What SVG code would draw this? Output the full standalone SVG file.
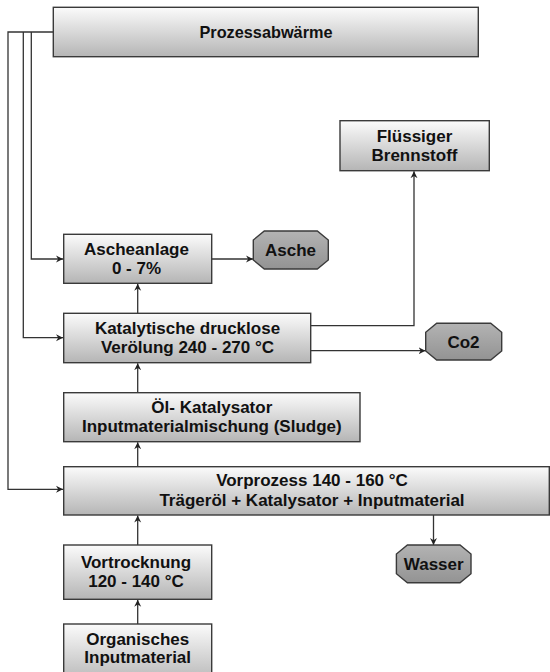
<svg xmlns="http://www.w3.org/2000/svg" width="550" height="672" viewBox="0 0 550 672">
<defs>
<linearGradient id="gBox" x1="0" y1="0" x2="0" y2="1">
<stop offset="0" stop-color="#fbfbfb"/>
<stop offset="1" stop-color="#b5b5b5"/>
</linearGradient>
<linearGradient id="gOct" x1="0" y1="0" x2="0" y2="1">
<stop offset="0" stop-color="#b3b3b3"/>
<stop offset="1" stop-color="#939393"/>
</linearGradient>
<marker id="arr" markerWidth="8" markerHeight="8" refX="7" refY="4" orient="auto" markerUnits="userSpaceOnUse">
<path d="M0,0.5 L7,4 L0,7.5 L2.2,4 Z" fill="#222"/>
</marker>
</defs>
<style>
.box{fill:url(#gBox);stroke:#3a3a3a;stroke-width:1.4}
.oct{fill:url(#gOct);stroke:#3a3a3a;stroke-width:1.4}
.t{font-family:"Liberation Sans",Arial,sans-serif;font-weight:bold;font-size:17px;fill:#111;text-anchor:middle}
.c{fill:none;stroke:#333;stroke-width:1.3}
.a{marker-end:url(#arr)}
</style>
<rect width="550" height="672" fill="#ffffff"/>

<g id="connectors">
<path class="c a" d="M53.3,32 H8 V489.3 H63"/>
<path class="c a" d="M23.3,32 V337.7 H63"/>
<path class="c a" d="M31.3,32 V259 H63"/>
<path class="c a" d="M211.7,259 H253"/>
<path class="c a" d="M137.7,313.3 V283.8"/>
<path class="c a" d="M310.7,325.7 H414 V171.2"/>
<path class="c a" d="M310.7,350.7 H425.5"/>
<path class="c a" d="M137.7,392.7 V363.2"/>
<path class="c a" d="M137.7,466.7 V442.2"/>
<path class="c a" d="M433.5,515 V545"/>
<path class="c a" d="M137.7,545 V515.5"/>
<path class="c a" d="M137.7,624 V599.8"/>
</g>

<g id="prozessabwaerme">
<rect class="box" x="53.3" y="7.3" width="425" height="49.4"/>
<text class="t" x="266" y="38" style="font-size:16.3px">Prozessabwärme</text>
</g>

<g id="fluessiger-brennstoff">
<rect class="box" x="340" y="120.7" width="149.3" height="50"/>
<text class="t" x="414.5" y="141.7">Flüssiger</text>
<text class="t" x="414.5" y="161">Brennstoff</text>
</g>

<g id="ascheanlage">
<rect class="box" x="63.7" y="234.3" width="148" height="49"/>
<text class="t" x="136.5" y="255">Ascheanlage</text>
<text class="t" x="136.5" y="274">0 - 7%</text>
</g>

<g id="asche">
<polygon class="oct" points="264.3,231 317.3,231 328.3,240 328.3,260 317.3,269 264.3,269 253.3,260 253.3,240"/>
<text class="t" x="290.5" y="256">Asche</text>
</g>

<g id="katalytische-veroelung">
<rect class="box" x="63.7" y="313.3" width="247" height="49.4"/>
<text class="t" x="187.5" y="334.3">Katalytische drucklose</text>
<text class="t" x="187.5" y="353.3">Verölung 240 - 270 °C</text>
</g>

<g id="co2">
<polygon class="oct" points="436.7,323.3 490.7,323.3 501.7,332.3 501.7,351 490.7,360 436.7,360 425.7,351 425.7,332.3"/>
<text class="t" x="463.5" y="348">Co2</text>
</g>

<g id="oel-katalysator">
<rect class="box" x="63.7" y="392.7" width="296.3" height="49"/>
<text class="t" x="211.8" y="413.3">Öl- Katalysator</text>
<text class="t" x="211.8" y="431.7">Inputmaterialmischung (Sludge)</text>
</g>

<g id="vorprozess">
<rect class="box" x="63.7" y="466.7" width="485.6" height="48.3"/>
<text class="t" x="312" y="486">Vorprozess 140 - 160 °C</text>
<text class="t" x="312" y="506">Trägeröl + Katalysator + Inputmaterial</text>
</g>

<g id="wasser">
<polygon class="oct" points="407.4,545 460,545 471,554 471,573.7 460,582.7 407.4,582.7 396.4,573.7 396.4,554"/>
<text class="t" x="433.7" y="570">Wasser</text>
</g>

<g id="vortrocknung">
<rect class="box" x="63.7" y="545" width="148" height="54.3"/>
<text class="t" x="136" y="568.3">Vortrocknung</text>
<text class="t" x="136" y="587.3">120 - 140 °C</text>
</g>

<g id="organisches-inputmaterial">
<rect class="box" x="63.7" y="624" width="148" height="60"/>
<text class="t" x="137.7" y="645">Organisches</text>
<text class="t" x="137.7" y="662.7">Inputmaterial</text>
</g>
</svg>
